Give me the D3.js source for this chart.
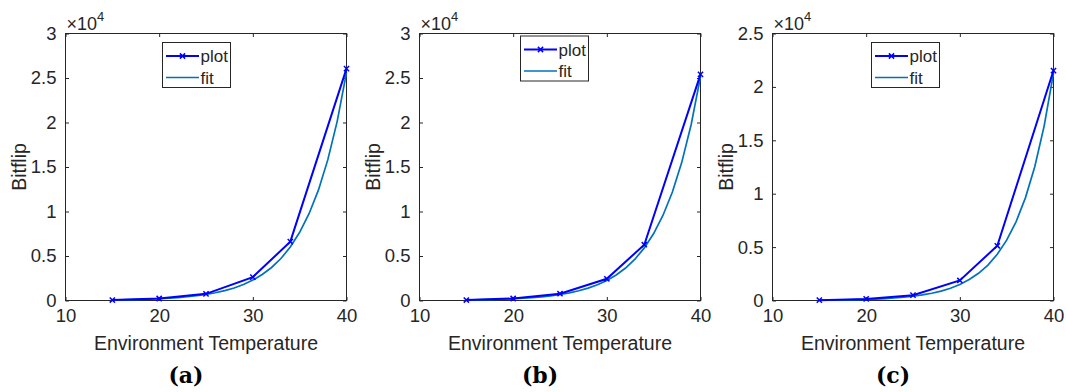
<!DOCTYPE html>
<html>
<head>
<meta charset="utf-8">
<script src="https://cdn.jsdelivr.net/npm/d3@7"></script>
<style>
    body { margin: 0; background: #fff; }
    svg { display: block; }
    text { font-family: "Liberation Sans", Arial, sans-serif; fill: #262626; }
</style>
</head>
<body>
<svg id="chart" width="1066" height="392"></svg>
<script>
// Measured points (temperature vs. bitflip count)
const temps = [15, 20, 25, 30, 34, 40];
const bitflipA = [50, 225, 750, 2630, 6610, 26050];
const bitflipB = [50, 225, 760, 2440, 6270, 25410];
const bitflipC = [30, 150, 500, 1875, 5125, 21530];

// Exponential fit curves
const fitTemps = [15, 16, 17, 18, 19, 20, 21, 22, 23, 24, 25, 26, 27,
    28, 29, 30, 31, 32, 33, 34, 35, 36, 37, 38, 39, 40];
const fitA = [60, 80, 100, 125, 160, 205, 260, 330, 420, 540, 690, 870, 1110,
    1410, 1800, 2290, 2920, 3710, 4720, 6010, 7660, 9750, 12400, 15800, 20100, 25600];
const fitB = [60, 77, 97, 124, 158, 201, 256, 326, 415, 529, 673, 857, 1090,
    1390, 1770, 2250, 2860, 3650, 4640, 5910, 7520, 9580, 12190, 15520, 19750, 25150];
const fitC = [28, 37, 48, 62, 81, 106, 138, 180, 234, 305, 398, 519, 677,
    882, 1150, 1500, 1960, 2550, 3320, 4330, 5650, 7370, 9610, 12520, 16330, 21290];

const panelLabels = ['(a)', '(b)', '(c)'];
const yMaxes = [30000, 30000, 25000];
const xTicks = [10, 20, 30, 40];
const legendNames = ['plot', 'fit'];

const panels = [
    { pts: bitflipA, fit: fitA },
    { pts: bitflipB, fit: fitB },
    { pts: bitflipC, fit: fitC }
];

// layout
const axTop = 33.5, axW = 281, axH = 267;
const axLeft = i => Math.round(65 + i * 353.6) + 0.5;
const legendPos = [{ x: 97, y: 9 }, { x: 101, y: 2.5 }, { x: 99, y: 9 }];
const axisColor = '#262626';
const plotColor = '#0000ff';
const fitColor = '#0072bd';
const tickFont = 18.5;
const labelFont = 19.5;

const svg = d3.select('#chart');

const xMark = 'M-2.6,-2.6L2.6,2.6M-2.6,2.6L2.6,-2.6';

panels.forEach((p, i) => {
    const left = axLeft(i);
    const g = svg.append('g').attr('transform', `translate(${left},${axTop})`);

    const x = d3.scaleLinear().domain([10, 40]).range([0, axW]);
    const y = d3.scaleLinear().domain([0, yMaxes[i]]).range([axH, 0]);
    const yTicks = d3.range(0, yMaxes[i] + 1, 5000);

    // ticks (inward, on all four sides)
    const styleAxis = sel => {
        sel.select('.domain').remove();
        sel.selectAll('line').attr('stroke', axisColor);
        sel.selectAll('text')
            .attr('font-family', '"Liberation Sans", Arial, sans-serif')
            .attr('font-size', tickFont)
            .attr('fill', axisColor);
    };

    g.append('g')
        .attr('transform', `translate(0,${axH})`)
        .call(d3.axisBottom(x).tickValues(xTicks).tickSizeInner(-3.5).tickSizeOuter(0).tickPadding(8))
        .call(styleAxis);
    g.append('g')
        .call(d3.axisTop(x).tickValues(xTicks).tickSizeInner(-3.5).tickSizeOuter(0).tickFormat(''))
        .call(styleAxis);
    g.append('g')
        .call(d3.axisLeft(y).tickValues(yTicks).tickSizeInner(-3.5).tickSizeOuter(0).tickPadding(9)
            .tickFormat(d => d3.format('~g')(d / 10000)))
        .call(styleAxis);
    g.append('g')
        .attr('transform', `translate(${axW},0)`)
        .call(d3.axisRight(y).tickValues(yTicks).tickSizeInner(-3.5).tickSizeOuter(0).tickFormat(''))
        .call(styleAxis);

    // box
    g.append('rect')
        .attr('width', axW).attr('height', axH)
        .attr('fill', 'none').attr('stroke', axisColor).attr('stroke-width', 1);

    // fit curve
    const line = d3.line().x(d => x(d[0])).y(d => y(d[1]));
    g.append('path')
        .datum(fitTemps.map((t, k) => [t, p.fit[k]]))
        .attr('d', line)
        .attr('fill', 'none')
        .attr('stroke', fitColor)
        .attr('stroke-width', 1.7);

    // measured line + markers
    const pts = temps.map((t, k) => [t, p.pts[k]]);
    g.append('path')
        .datum(pts)
        .attr('d', line)
        .attr('fill', 'none')
        .attr('stroke', plotColor)
        .attr('stroke-width', 2);
    g.selectAll('.mk')
        .data(pts)
        .enter()
        .append('path')
        .attr('class', 'mk')
        .attr('transform', d => `translate(${x(d[0])},${y(d[1])})`)
        .attr('d', xMark)
        .attr('stroke', plotColor)
        .attr('stroke-width', 1.5);

    // x10^4 exponent
    const ex = g.append('text').attr('x', 1).attr('y', -3.5).attr('font-size', 18);
    ex.append('tspan').text('\u00d710');
    ex.append('tspan').attr('font-size', 13).attr('dy', -9).text('4');

    // axis labels
    g.append('text')
        .attr('x', axW / 2)
        .attr('y', axH + 49)
        .attr('text-anchor', 'middle')
        .attr('font-size', labelFont)
        .text('Environment Temperature');

    g.append('text')
        .attr('transform', `translate(${-39.5},${axH / 2}) rotate(-90)`)
        .attr('text-anchor', 'middle')
        .attr('font-size', labelFont)
        .text('Bitflip');

    // legend
    const lp = legendPos[i];
    const lg = g.append('g').attr('transform', `translate(${lp.x},${lp.y})`);
    lg.append('rect')
        .attr('width', 68).attr('height', 45)
        .attr('fill', '#fff').attr('stroke', axisColor).attr('stroke-width', 1);
    legendNames.forEach((name, k) => {
        const ry = 13.5 + k * 21.5;
        lg.append('line')
            .attr('x1', 3.5).attr('x2', 36.5).attr('y1', ry).attr('y2', ry)
            .attr('stroke', k === 0 ? plotColor : fitColor)
            .attr('stroke-width', k === 0 ? 2 : 1.7);
        if (k === 0) {
            lg.append('path')
                .attr('transform', `translate(20,${ry})`)
                .attr('d', xMark)
                .attr('stroke', plotColor)
                .attr('stroke-width', 1.5);
        }
        lg.append('text')
            .attr('x', 38)
            .attr('y', ry + 6)
            .attr('font-size', 17)
            .text(name);
    });

    // sub-figure caption
    svg.append('text')
        .attr('x', left + axW / 2 - 20)
        .attr('y', 383)
        .attr('text-anchor', 'middle')
        .style('font-family', '"DejaVu Serif", serif')
        .style('font-weight', 'bold')
        .style('fill', '#000')
        .attr('font-size', 22)
        .text(panelLabels[i]);
});
</script>
</body>
</html>
